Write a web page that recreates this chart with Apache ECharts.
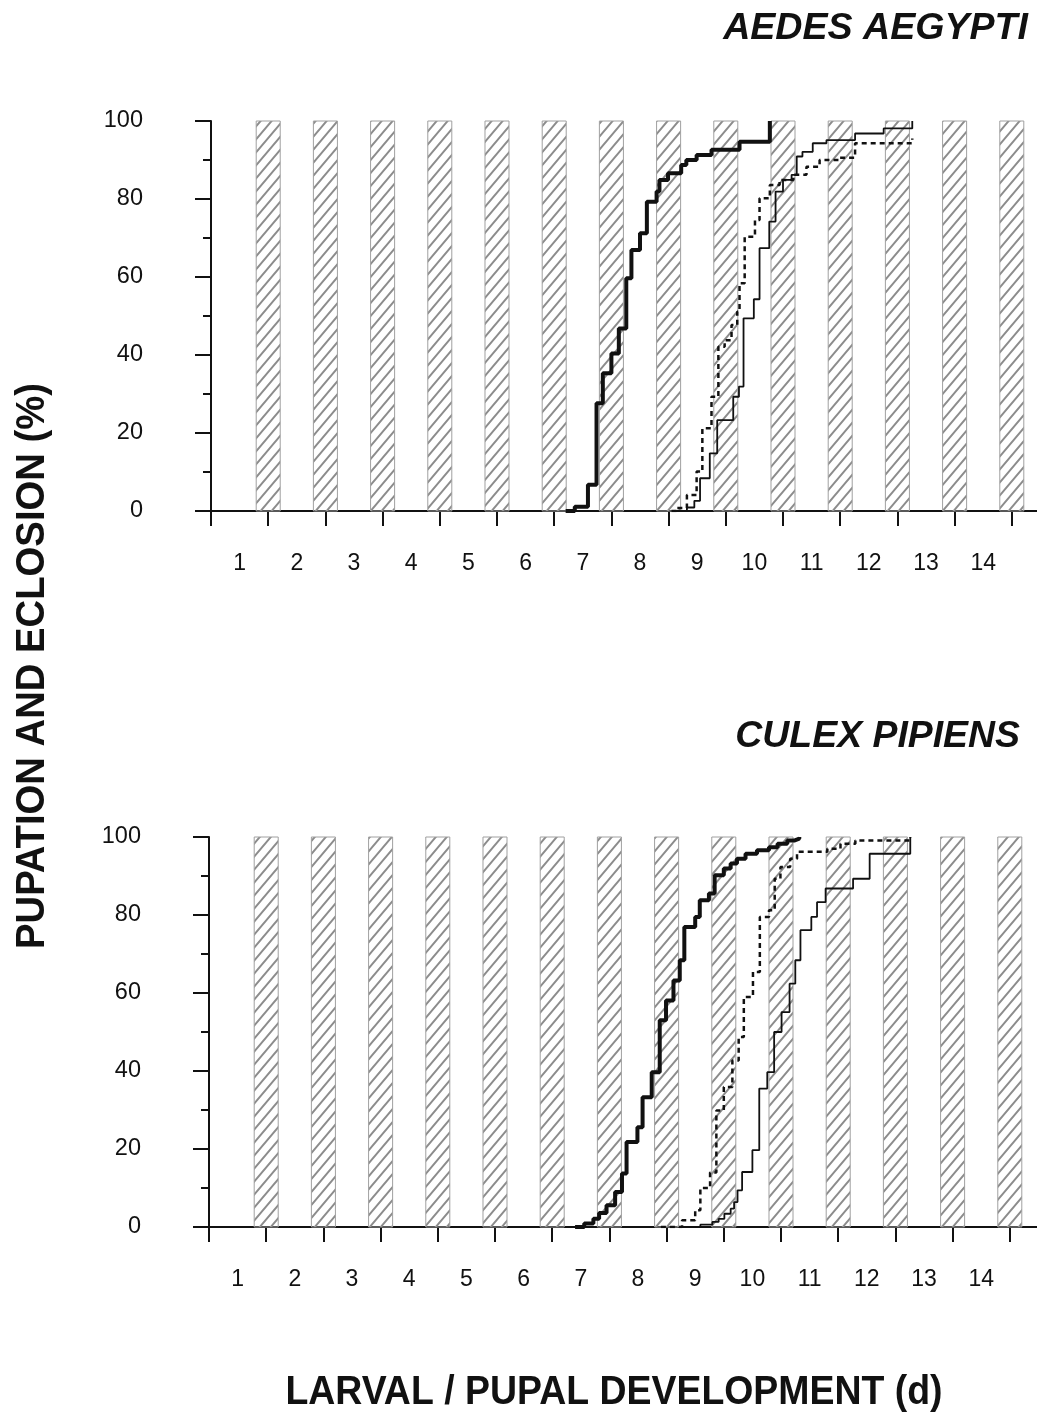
<!DOCTYPE html>
<html>
<head>
<meta charset="utf-8">
<script src="https://cdn.jsdelivr.net/npm/echarts@6/dist/echarts.min.js"></script>
<style>
html, body { margin: 0; padding: 0; background: #fff; }
#chart { width: 1037px; height: 1412px; }
</style>
</head>
<body>
<div id="chart"></div>
<script>
// day labels sit between the day ticks
var dayLabels = ['1', '2', '3', '4', '5', '6', '7', '8', '9', '10', '11', '12', '13', '14'];
// dark periods (hatched bars), centred on each day boundary
var nightDays = [1, 2, 3, 4, 5, 6, 7, 8, 9, 10, 11, 12, 13, 14];

// Aedes aegypti, [day, cumulative %]
var aedesThick = [[6.2, 0], [6.36, 1.1], [6.59, 6.7], [6.74, 27.6], [6.85, 35.3], [7.0, 40.4], [7.13, 46.8], [7.26, 59.7], [7.35, 66.9], [7.5, 71.2], [7.62, 79.3], [7.79, 81.9], [7.84, 84.9], [7.99, 86.6], [8.22, 88.7], [8.31, 90.0], [8.49, 91.3], [8.75, 92.6], [9.24, 94.7], [9.77, 100]];
var aedesThin = [[8.1, 0], [8.32, 0.9], [8.45, 2.6], [8.55, 8.4], [8.72, 14.8], [8.85, 23.3], [9.13, 29.3], [9.23, 31.9], [9.31, 49.4], [9.49, 54.3], [9.59, 67.4], [9.76, 74.2], [9.87, 81.9], [10.0, 84.9], [10.15, 86.2], [10.24, 90.9], [10.34, 92.1], [10.52, 94.3], [10.76, 95.1], [11.26, 96.8], [11.76, 98.1], [12.26, 100]];
var aedesDotted = [[8.05, 0], [8.15, 0.8], [8.32, 4.1], [8.49, 10.1], [8.59, 21.2], [8.75, 29.3], [8.87, 42.1], [8.98, 43.8], [9.1, 47.7], [9.2, 51.1], [9.24, 58.4], [9.33, 70.3], [9.51, 74.6], [9.59, 80.2], [9.77, 83.6], [9.94, 84.9], [10.18, 86.2], [10.41, 88.3], [10.64, 90.0], [10.99, 90.6], [11.26, 94.3], [12.26, 95.5]];

// Culex pipiens, [day, cumulative %]
var culexThick = [[6.4, 0], [6.56, 0.9], [6.72, 2.1], [6.82, 3.6], [6.95, 5.6], [7.1, 9.0], [7.22, 13.7], [7.3, 21.8], [7.49, 25.6], [7.58, 33.3], [7.74, 39.7], [7.88, 53.0], [7.99, 58.1], [8.12, 63.2], [8.23, 68.4], [8.31, 76.9], [8.5, 79.5], [8.58, 83.8], [8.74, 85.5], [8.84, 90.2], [9.0, 91.9], [9.12, 93.2], [9.23, 94.4], [9.38, 95.7], [9.58, 96.6], [9.79, 97.4], [9.94, 98.3], [10.11, 99.1], [10.23, 99.6], [10.32, 100]];
var culexThin = [[8.5, 0], [8.59, 0.6], [8.8, 1.3], [8.91, 2.1], [9.01, 3.4], [9.12, 4.7], [9.18, 6.4], [9.24, 9.4], [9.32, 14.1], [9.5, 19.7], [9.62, 35.5], [9.76, 39.7], [9.88, 50.0], [10.01, 55.1], [10.15, 62.4], [10.25, 68.4], [10.34, 76.1], [10.53, 79.5], [10.63, 83.3], [10.78, 86.8], [11.26, 89.3], [11.55, 95.7], [12.26, 100]];
var culexDotted = [[7.9, 0], [8.27, 1.7], [8.5, 4.3], [8.59, 10.0], [8.76, 14.0], [8.87, 29.9], [9.0, 35.9], [9.15, 42.7], [9.26, 48.7], [9.35, 59.0], [9.51, 65.4], [9.63, 79.5], [9.79, 81.2], [9.89, 89.3], [9.99, 92.3], [10.16, 94.4], [10.28, 96.2], [10.81, 97.0], [11.04, 98.3], [11.3, 99.1], [12.26, 100]];

var FONT = '"Liberation Sans", Arial, Helvetica, sans-serif';

// diagonal hatching for the dark periods
function makeHatch() {
    var c = document.createElement('canvas');
    c.width = 11;
    c.height = 13;
    var ctx = c.getContext('2d');
    ctx.strokeStyle = '#8c8c8c';
    ctx.lineWidth = 2;
    ctx.beginPath();
    for (var k = -1; k <= 1; k++) {
        ctx.moveTo(k * 11 - 11 / 13, 14);
        ctx.lineTo(k * 11 + 11 + 11 / 13, -1);
    }
    ctx.stroke();
    return c;
}
var hatch = { image: makeHatch(), repeat: 'repeat' };

function renderNight(params, api) {
    var d = api.value(0);
    var p0 = api.coord([d - 0.21, api.value(1)]);
    var p1 = api.coord([d + 0.21, 0]);
    return {
        type: 'rect',
        shape: { x: p0[0], y: p0[1], width: p1[0] - p0[0], height: p1[1] - p0[1] },
        style: { fill: hatch, stroke: '#a0a0a0', lineWidth: 1 }
    };
}

function xAxisFor(idx) {
    return {
        type: 'value',
        gridIndex: idx,
        min: 0,
        max: 14.5,
        interval: 1,
        axisLine: { lineStyle: { color: '#111', width: 2 } },
        axisTick: { length: 15, lineStyle: { color: '#111', width: 2 } },
        axisLabel: {
            color: '#111',
            fontSize: 23,
            fontFamily: FONT,
            margin: 41,
            padding: [0, 0, 0, 57.2],
            formatter: function (v) {
                return (v >= 0 && v < 14 && v % 1 === 0) ? dayLabels[v] : '';
            }
        },
        splitLine: { show: false }
    };
}

function yAxisFor(idx) {
    return {
        type: 'value',
        gridIndex: idx,
        min: 0,
        max: 100,
        interval: 20,
        offset: 22,
        axisLine: { show: true, lineStyle: { color: '#111', width: 2 } },
        axisTick: { show: true, length: 16, lineStyle: { color: '#111', width: 2 } },
        minorTick: { show: true, splitNumber: 2, length: 8, lineStyle: { color: '#111', width: 2 } },
        axisLabel: { color: '#111', fontSize: 23.5, fontFamily: FONT, margin: 46 },
        splitLine: { show: false }
    };
}

function curve(idx, data, kind) {
    var ls = { color: '#111', width: 1.8 };
    if (kind === 'thick') ls.width = 4;
    if (kind === 'dotted') { ls.width = 2.5; ls.type = [5, 4]; }
    return {
        type: 'line',
        xAxisIndex: idx,
        yAxisIndex: idx,
        step: 'end',
        symbol: 'none',
        z: 3,
        lineStyle: ls,
        data: data
    };
}

function nights(idx) {
    return {
        type: 'custom',
        xAxisIndex: idx,
        yAxisIndex: idx,
        z: 1,
        renderItem: renderNight,
        encode: { x: 0, y: 1 },
        data: nightDays.map(function (d) { return [d, 100]; })
    };
}

var myChart = echarts.init(document.getElementById('chart'), null, { renderer: 'canvas' });

var option = {
    backgroundColor: '#fff',
    animation: false,
    grid: [
        { left: 211, top: 121, height: 390, width: 829.4, outerBoundsMode: 'none' },
        { left: 209, top: 837, height: 390, width: 829.4, outerBoundsMode: 'none' }
    ],
    xAxis: [xAxisFor(0), xAxisFor(1)],
    yAxis: [yAxisFor(0), yAxisFor(1)],
    series: [
        nights(0),
        curve(0, aedesDotted, 'dotted'),
        curve(0, aedesThin, 'thin'),
        curve(0, aedesThick, 'thick'),
        nights(1),
        curve(1, culexDotted, 'dotted'),
        curve(1, culexThin, 'thin'),
        curve(1, culexThick, 'thick')
    ],
    graphic: [
        {
            type: 'text', x: 1028, y: 29,
            style: { text: 'AEDES AEGYPTI', fill: '#111', font: 'italic bold 37.6px ' + FONT, align: 'right', verticalAlign: 'middle' }
        },
        {
            type: 'text', x: 1020, y: 737,
            style: { text: 'CULEX PIPIENS', fill: '#111', font: 'italic bold 37.4px ' + FONT, align: 'right', verticalAlign: 'middle' }
        },
        {
            type: 'text', x: 614, y: 1393, scaleX: 0.913,
            style: { text: 'LARVAL / PUPAL DEVELOPMENT (d)', fill: '#111', font: 'bold 41px ' + FONT, align: 'center', verticalAlign: 'middle' }
        },
        {
            type: 'text', x: 33, y: 666, rotation: Math.PI / 2, scaleX: 0.933,
            style: { text: 'PUPATION AND ECLOSION (%)', fill: '#111', font: 'bold 41px ' + FONT, align: 'center', verticalAlign: 'middle' }
        }
    ]
};

myChart.setOption(option);
</script>
</body>
</html>
